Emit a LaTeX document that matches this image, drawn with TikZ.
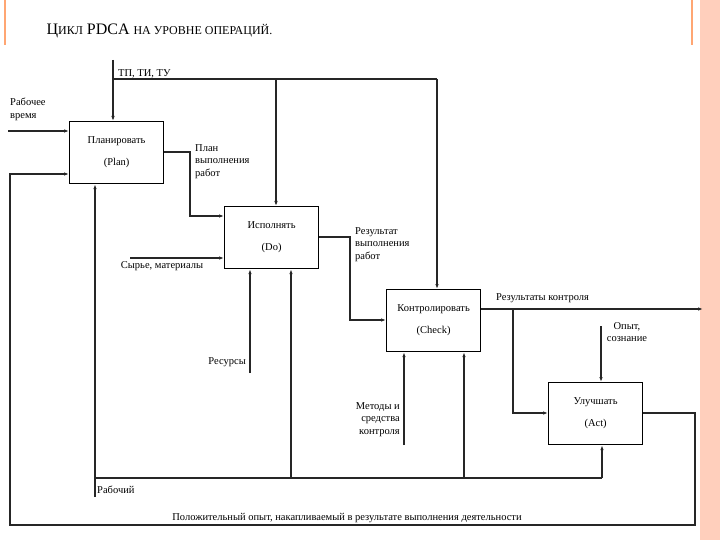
\documentclass[tikz,border=0pt]{standalone}
\usepackage{fontspec}
\setmainfont{Liberation Serif}
\usetikzlibrary{arrows.meta}
\begin{document}
\begin{tikzpicture}[x=1pt,y=-1pt,
  blk/.style={draw,line width=1.2pt,minimum width=94pt,minimum height=62pt,anchor=north west,align=center,font=\fontsize{10.5}{22}\selectfont},
  ln/.style={line width=1.1pt,black!85},
  ar/.style={ln,-{Latex[length=5pt,width=3.5pt]}},
  lb/.style={font=\fontsize{10.5}{12.5}\selectfont,inner sep=0pt}]
\useasboundingbox (0,0) rectangle (720,540);
\fill[white] (0,0) rectangle (720,540);
\fill[orange!25!pink!60] (700,0) rectangle (720,540);
\draw[orange!40!pink,line width=1.5pt] (692,0) -- (692,45);
\draw[orange!40!pink,line width=2pt] (5,0) -- (5,45);
\node[anchor=west,font=\fontsize{16}{17}\selectfont] (title) at (43,31) {Ц{\fontsize{12}{13}\selectfont ИКЛ} PDCA {\fontsize{12}{13}\selectfont НА УРОВНЕ ОПЕРАЦИЙ.}};
\node[blk] (P) at (69,121) {Планировать\\(Plan)};
\node[blk] (D) at (224,206) {Исполнять\\(Do)};
\node[blk] (C) at (386,289) {Контролировать\\(Check)};
\node[blk] (A) at (548,382) {Улучшать\\(Act)};
\coordinate (t0) at (113,60);
\coordinate (t1) at (113,79);
\coordinate (t2) at (276,79);
\coordinate (t3) at (437,79);
\draw[ar] (t0) -- (P.north west -| t1);
\draw[ln] (t1) -- (t3);
\draw[ar] (t2) -- (D.north west -| t2);
\draw[ar] (t3) -- (C.north west -| t3);
\node[lb,anchor=south west] (tl) at (118,78) {ТП, ТИ, ТУ};
\coordinate (rv) at (8,131);
\draw[ar] (rv) -- (P.west |- rv);
\node[lb,anchor=north west,align=left] (rvl) at (10,98) {Рабочее\\время};
\coordinate (f1) at (695,413);
\coordinate (f2) at (695,525);
\coordinate (f3) at (10,525);
\coordinate (f4) at (10,174);
\draw[ar] (A.east |- f1) -- (f1) -- (f2) -- (f3) -- (f4) -- (P.west |- f4);
\node[lb,anchor=south] (fl) at (347,523) {Положительный опыт, накапливаемый в результате выполнения деятельности};
\coordinate (p1) at (190,152);
\coordinate (p2) at (190,216);
\draw[ar] (P.east |- p1) -- (p1) -- (p2) -- (D.west |- p2);
\node[lb,anchor=north west,align=left] (pl) at (195,144) {План\\выполнения\\работ};
\coordinate (d1) at (350,237);
\coordinate (d2) at (350,320);
\draw[ar] (D.east |- d1) -- (d1) -- (d2) -- (C.west |- d2);
\node[lb,anchor=north west,align=left] (dl) at (355,227) {Результат\\выполнения\\работ};
\coordinate (s0) at (130,258);
\draw[ar] (s0) -- (D.west |- s0);
\node[lb,anchor=north] (sl) at (162,261) {Сырье, материалы};
\coordinate (r0) at (250,373);
\draw[ar] (r0) -- (D.south west -| r0);
\node[lb,anchor=east] (rl) at (246,362) {Ресурсы};
\coordinate (w0) at (95,497);
\coordinate (w1) at (95,478);
\coordinate (w2) at (291,478);
\coordinate (w3) at (464,478);
\coordinate (w4) at (602,478);
\draw[ar] (w0) -- (P.south west -| w0);
\draw[ln] (w1) -- (w4);
\draw[ar] (w4) -- (A.south west -| w4);
\draw[ar] (w2) -- (D.south west -| w2);
\draw[ar] (w3) -- (C.south west -| w3);
\node[lb,anchor=west] (wl) at (97,490) {Рабочий};
\coordinate (m0) at (404,445);
\draw[ar] (m0) -- (C.south west -| m0);
\node[lb,anchor=north east,align=right] (ml) at (400,402) {Методы и\\средства\\контроля};
\coordinate (c1) at (703,309);
\coordinate (c2) at (513,309);
\coordinate (c3) at (513,413);
\draw[ar] (C.east |- c1) -- (c1);
\draw[ar] (c2) -- (c3) -- (A.west |- c3);
\node[lb,anchor=south west] (cl) at (496,303) {Результаты контроля};
\coordinate (o0) at (601,326);
\draw[ar] (o0) -- (A.north west -| o0);
\node[lb,anchor=north,align=center] (ol) at (627,322) {Опыт,\\сознание};
\end{tikzpicture}
\end{document}
